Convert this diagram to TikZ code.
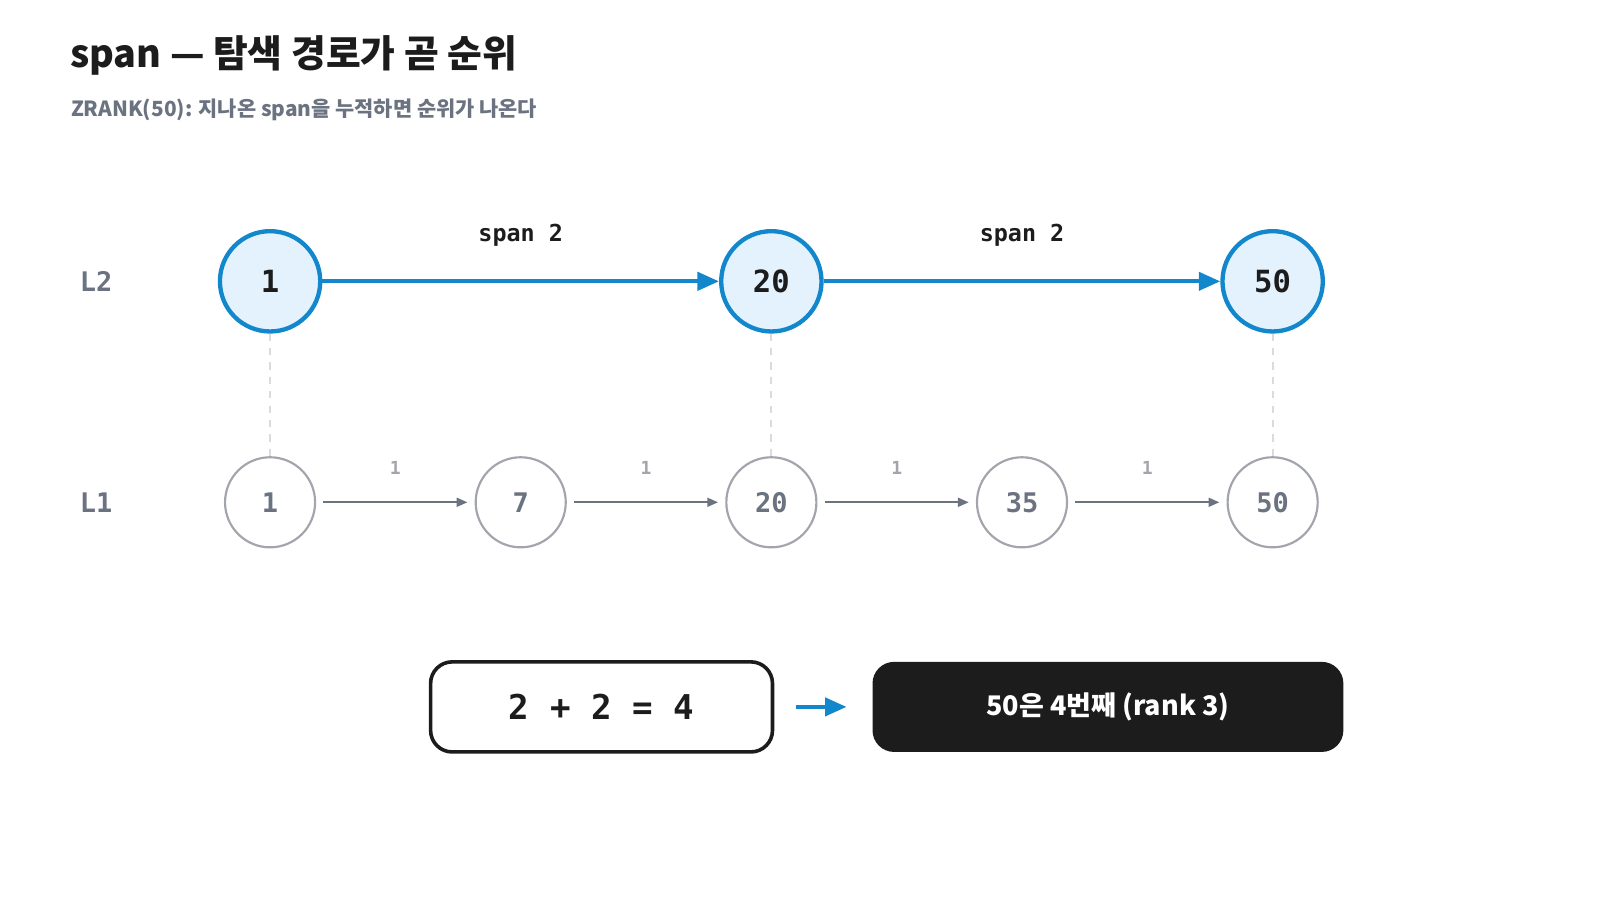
\documentclass[tikz,border=0pt]{standalone}
\usepackage{fontspec}
\setmainfont{Noto Sans CJK KR}
\setmonofont{DejaVu Sans Mono}
\usetikzlibrary{positioning,arrows.meta}
\definecolor{blu}{HTML}{1287CC}
\definecolor{blufill}{HTML}{E3F2FD}
\definecolor{gry}{HTML}{A3A5AD}
\definecolor{gtxt}{HTML}{6B7280}
\definecolor{dark}{HTML}{1C1C1C}
\tikzset{
  top/.style={circle,draw=blu,line width=1.2pt,fill=blufill,minimum size=0.98cm,
    font=\ttfamily\bfseries\fontsize{8.5}{10}\selectfont,text=dark},
  low/.style={circle,draw=gry,line width=0.6pt,fill=white,minimum size=0.88cm,
    font=\ttfamily\bfseries\fontsize{7.5}{9}\selectfont,text=gtxt},
  toparr/.style={draw=blu,line width=1.2pt,-{Triangle[length=6pt,width=5pt]}},
  lowarr/.style={draw=gtxt,line width=0.5pt,-{Triangle[length=3pt,width=2.5pt]}},
  lvl/.style={font=\ttfamily\bfseries\fontsize{7.5}{9}\selectfont,text=gtxt},
  spanlbl/.style={font=\ttfamily\bfseries\fontsize{6.5}{8}\selectfont,text=dark},
  onelbl/.style={font=\ttfamily\bfseries\fontsize{5}{6}\selectfont,text=gry},
  vdash/.style={draw=gry!40,dash pattern=on 2pt off 2pt,line width=0.5pt}
}
\begin{document}
\begin{tikzpicture}[x=0.01cm,y=-0.01cm]
\useasboundingbox (0,0) rectangle (1564,880);
% title
\node[anchor=west,font=\bfseries\fontsize{10.5}{12}\selectfont,text=dark] (title) at (56,54) {span — 탐색 경로가 곧 순위};
\node[anchor=west,font=\bfseries\fontsize{5.8}{7}\selectfont,text=gtxt] (sub) at (57,107) {ZRANK(50): 지나온 span을 누적하면 순위가 나온다};

% levels
\node[lvl] (l2) at (94,275) {L2};
\node[lvl] (l1) at (94,491) {L1};

% L1 nodes
\foreach \v/\x in {1/264,7/509,20/754,35/999,50/1244}
  \node[low] (b\v) at (\x,491) {\v};

% L2 nodes
\foreach \v/\x in {1/264,20/754,50/1244}
  \node[top] (t\v) at (\x,275) {\v};

\foreach \v in {1,20,50}
  \draw[vdash] (t\v) -- (b\v);

\draw[toparr] (t1) -- node[spanlbl,above=0.2cm] {span 2} (t20);
\draw[toparr] (t20) -- node[spanlbl,above=0.2cm] {span 2} (t50);

\foreach \a/\b in {1/7,7/20,20/35,35/50}
  \draw[lowarr] ([xshift=2pt]b\a.east) -- node[onelbl,above=0.15cm] {1} ([xshift=-2pt]b\b.west);

% result
\node[draw=dark,line width=1pt,rounded corners=6pt,minimum width=3.34cm,minimum height=0.88cm,
  font=\ttfamily\bfseries\fontsize{9.5}{11}\selectfont,text=dark] (sum) at (588,691) {2 + 2 = 4};
\node[fill=dark,rounded corners=6pt,minimum width=4.6cm,minimum height=0.88cm,
  font=\bfseries\fontsize{7.5}{9}\selectfont,text=white] (res) at (1083,691) {50은 4번째 (rank 3)};
\draw[toparr] ([xshift=6pt]sum.east) -- ([xshift=-7pt]res.west);
\end{tikzpicture}
\end{document}
